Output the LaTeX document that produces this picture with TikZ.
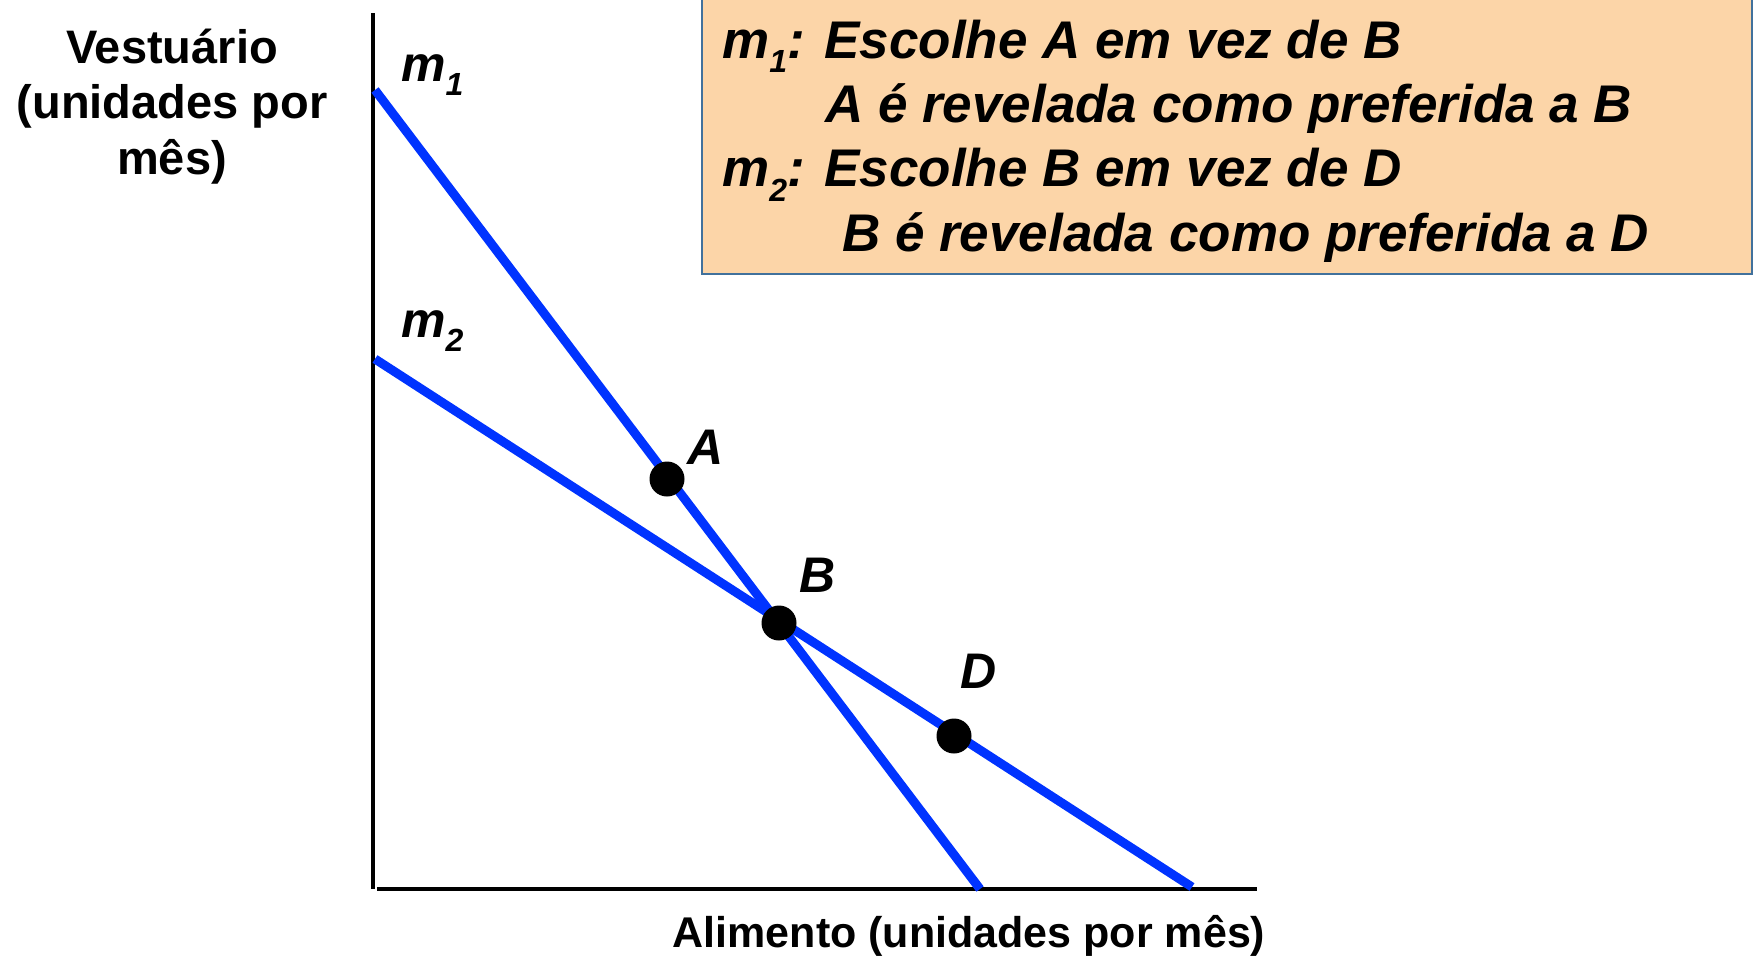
\documentclass[tikz,border=0pt]{standalone}
\usepackage{fontspec}
\setmainfont{Liberation Sans}
\definecolor{budget}{RGB}{0,51,255}
\definecolor{boxfill}{RGB}{252,213,168}
\definecolor{boxedge}{RGB}{65,113,156}
\newcommand\subidx[1]{\raisebox{-0.28em}{\fontsize{32}{32}\selectfont #1}}
\begin{document}
\begin{tikzpicture}[x=1pt,y=-1pt,
  axisline/.style={line width=4.5pt,black},
  budgetline/.style={line width=9pt,budget},
  dotmark/.style={circle,fill=black,inner sep=0pt,minimum size=35pt},
  axislabel/.style={font=\fontsize{47}{56}\selectfont\bfseries,inner sep=0pt},
  ptlabel/.style={font=\fontsize{50}{60}\selectfont\bfseries\itshape,inner sep=0pt,anchor=base west},
  infotext/.style={font=\fontsize{53}{64.3}\selectfont\bfseries\itshape,inner sep=0pt,anchor=base west,align=left}]
\useasboundingbox (0,0) rectangle (1760,956);
% info box
\draw[fill=boxfill,draw=boxedge,line width=2.5pt] (702,-10) rectangle (1752,274);
\node[infotext] (info) at (722,251) {m\subidx{1}: Escolhe A em vez de B\\
\hspace*{103pt}A é revelada como preferida a B\\
m\subidx{2}: Escolhe B em vez de D\\
\hspace*{120pt}B é revelada como preferida a D};
% axes
\coordinate (ytop) at (373,13);
\coordinate (orig) at (373,889);
\coordinate (xend) at (1257,889);
\draw[axisline] (ytop) -- (orig);
\draw[axisline] (377,889) -- (xend);
% budget lines
\coordinate (m1a) at (375,90);
\coordinate (m1b) at (980,889);
\coordinate (m2a) at (375,359);
\coordinate (m2b) at (1192,887);
\draw[budgetline] (m1a) -- (m1b);
\draw[budgetline] (m2a) -- (m2b);
% points
\node[dotmark] (A) at (667,479) {};
\node[dotmark] (B) at (779,623) {};
\node[dotmark] (D) at (954,736) {};
\node[ptlabel] (Alab) at (687,464) {A};
\node[ptlabel] (Blab) at (799,592) {B};
\node[ptlabel] (Dlab) at (960,688) {D};
\node[ptlabel] (m1lab) at (401,81) {m\subidx{1}};
\node[ptlabel] (m2lab) at (401,337) {m\subidx{2}};
% axis labels
\node[axislabel,align=center,anchor=base] (ylab) at (172,174) {Vestuário\\[-0.5pt](unidades por\\[-0.5pt]mês)};
\node[axislabel,anchor=base,font=\fontsize{43}{50}\selectfont\bfseries] (xlab) at (969,947) {Alimento (unidades por mês)};
\end{tikzpicture}
\end{document}
